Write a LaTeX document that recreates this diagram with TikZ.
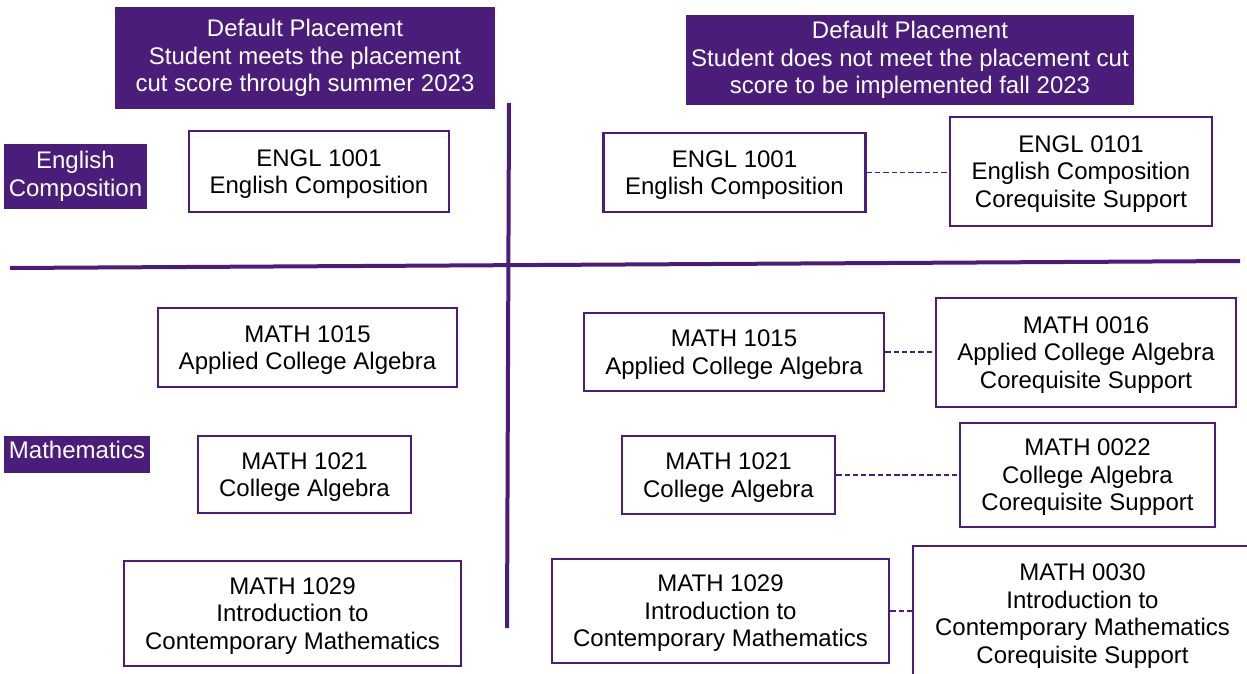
\documentclass[tikz,border=0pt]{standalone}
\usepackage{fontspec}
\setmainfont{Liberation Sans}
\definecolor{pur}{RGB}{75,29,122}
\tikzset{
  hdr/.style={fill=pur, draw=none, text=white, align=center, inner sep=0pt, font=\fontsize{18}{20.6}\selectfont},
  cbox/.style={draw=pur, line width=2pt, fill=white, text=black, align=center, inner sep=0pt, font=\fontsize{18}{20.6}\selectfont, text depth=-0.5pt},
  conn/.style={draw=pur, line width=1.3pt, dash pattern=on 4pt off 2.2pt},
  divider/.style={draw=pur, line width=3pt}
}
\begin{document}
\begin{tikzpicture}[x=0.75pt,y=-0.75pt]
\clip (0,0) rectangle (1247,674);
\fill[white] (0,0) rectangle (1247,674);
% dividers
\coordinate (vtop) at (509,103);
\coordinate (vbot) at (507,628);
\coordinate (hl) at (10,268);
\coordinate (hr) at (1240,261);
\draw[divider] (vtop) -- (vbot);
\draw[divider] (hl) -- (hr);
% headers
\node[hdr, minimum width=380*0.75pt, minimum height=102*0.75pt] (hL) at (305,58) {Default Placement\\Student meets the placement\\cut score through summer 2023};
\node[hdr, minimum width=448*0.75pt, minimum height=90*0.75pt] (hR) at (910,60) {Default Placement\\Student does not meet the placement cut\\score to be implemented fall 2023};
% row labels
\node[hdr, minimum width=143*0.75pt, minimum height=65*0.75pt] (lEng) at (75.5,176.5) {English\\Composition};
\node[hdr, minimum width=146*0.75pt, minimum height=37*0.75pt, text depth=6.5pt] (lMath) at (77,454.5) {Mathematics};
% left column
\node[cbox, minimum width=260*0.75pt, minimum height=81*0.75pt] (e1L) at (319,171.5) {ENGL 1001\\English Composition};
\node[cbox, minimum width=299*0.75pt, minimum height=79*0.75pt] (m15L) at (307.5,347.5) {MATH 1015\\Applied College Algebra};
\node[cbox, minimum width=213*0.75pt, minimum height=77*0.75pt] (m21L) at (304.5,474.5) {MATH 1021\\College Algebra};
\node[cbox, minimum width=337*0.75pt, minimum height=105*0.75pt] (m29L) at (292.5,613.5) {MATH 1029\\Introduction to\\Contemporary Mathematics};
% right column
\node[cbox, minimum width=262*0.75pt, minimum height=79*0.75pt] (e1R) at (734.5,172.5) {ENGL 1001\\English Composition};
\node[cbox, minimum width=262*0.75pt, minimum height=109*0.75pt] (e0R) at (1081,171.5) {ENGL 0101\\English Composition\\Corequisite Support};
\node[cbox, minimum width=300*0.75pt, minimum height=78*0.75pt] (m15R) at (734,352) {MATH 1015\\Applied College Algebra};
\node[cbox, minimum width=300*0.75pt, minimum height=109*0.75pt] (m16R) at (1086,352.5) {MATH 0016\\Applied College Algebra\\Corequisite Support};
\node[cbox, minimum width=213*0.75pt, minimum height=78*0.75pt] (m21R) at (728.5,475) {MATH 1021\\College Algebra};
\node[cbox, minimum width=255*0.75pt, minimum height=104*0.75pt] (m22R) at (1087.5,475) {MATH 0022\\College Algebra\\Corequisite Support};
\node[cbox, minimum width=337*0.75pt, minimum height=104*0.75pt] (m29R) at (720.5,611) {MATH 1029\\Introduction to\\Contemporary Mathematics};
\node[cbox, minimum width=339*0.75pt, minimum height=135*0.75pt] (m30R) at (1082.5,613.5) {MATH 0030\\Introduction to\\Contemporary Mathematics\\Corequisite Support};
% connectors
\draw[conn] (e1R.east) -- (e1R.east -| e0R.west);
\draw[conn] (m15R.east) -- (m15R.east -| m16R.west);
\draw[conn] (m21R.east) -- (m21R.east -| m22R.west);
\draw[conn] (m29R.east) -- (m29R.east -| m30R.west);
\end{tikzpicture}
\end{document}
